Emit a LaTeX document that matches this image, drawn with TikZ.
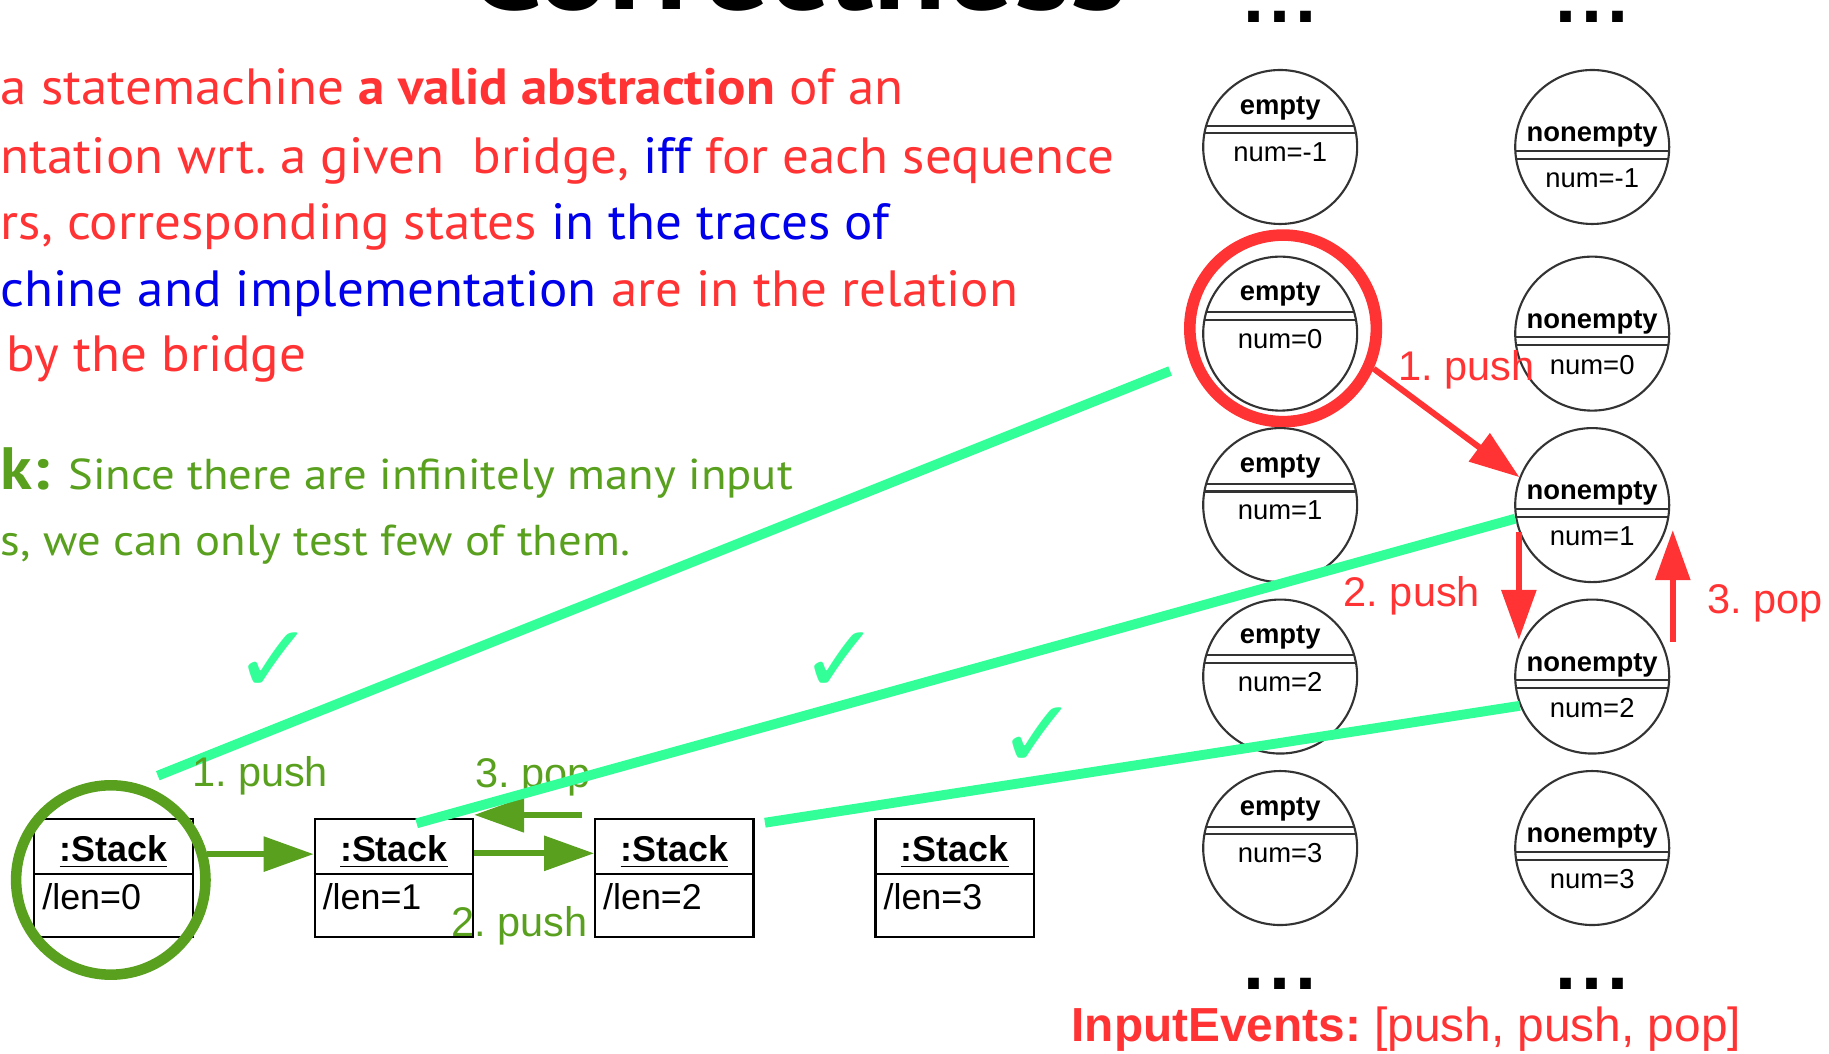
\documentclass[tikz,border=0pt]{standalone}
\usepackage{fontspec}
\setmainfont{Liberation Sans}
\newfontfamily\comic[FakeStretch=1.04]{PT Sans}
\newfontfamily\comicnote[FakeStretch=1.08]{PT Sans}
\newfontfamily\symfont{DejaVu Sans}
\usetikzlibrary{arrows.meta,calc}
\frenchspacing

\definecolor{errred}{RGB}{255,51,51}
\definecolor{keyblue}{RGB}{0,0,235}
\definecolor{notegreen}{RGB}{88,160,30}
\definecolor{bridgemint}{RGB}{51,255,153}

\tikzset{
  stackbox/.style={draw, line width=0.6pt, minimum width=15.84mm, minimum height=11.84mm, inner sep=0pt},
  statecirc/.style={draw=black!80, circle, line width=0.6pt, minimum size=15.4mm, inner sep=0pt},
  chord/.style={draw=black!80, line width=0.6pt},
  bridge/.style={bridgemint, line width=2.8pt},
  flow/.style={line width=1.7pt, -{Triangle[length=5mm,width=3.4mm]}},
  txt/.style={inner sep=0pt, anchor=base west},
  claimtxt/.style={txt, text=errred, font=\comic\fontsize{14.5}{17}\selectfont},
  notetxt/.style={txt, text=notegreen, font=\comicnote\fontsize{12.3}{14}\selectfont},
  steplabel/.style={txt, font=\fontsize{11.8}{14}\selectfont},
  tick/.style={inner sep=0pt, text=bridgemint, font=\symfont\bfseries\fontsize{27}{27}\selectfont},
  more/.style={inner sep=0pt, anchor=base, font=\bfseries\fontsize{21.5}{22}\selectfont},
}

\begin{document}
\begin{tikzpicture}[x=1.1665mm,y=-1.1665mm]
  \useasboundingbox (0,0) rectangle (156.8,90.3);

  % Titel (oben abgeschnitten)
  \node[txt, font=\comic\bfseries\fontsize{36.5}{40}\selectfont] (title) at (40.0,0.8) {Correctness};

  % Definition
  \node[claimtxt] (claim1) at (0,9.0) {a statemachine \textbf{a valid abstraction} of an};
  \node[claimtxt] (claim2) at (0,14.86) {ntation wrt. a given\ \ bridge, \textcolor{keyblue}{iff} for each sequence};
  \node[claimtxt] (claim3) at (0,20.5) {rs, corresponding states \textcolor{keyblue}{in the traces of}};
  \node[claimtxt] (claim4) at (0,26.3) {\textcolor{keyblue}{chine and implementation} are in the relation};
  \node[claimtxt] (claim5) at (0.5,31.86) {by the bridge};

  % Bemerkung
  \node[notetxt, font=\comicnote\bfseries\fontsize{17}{19}\selectfont] (notek) at (0,42.0) {k:};
  \node[notetxt] (note1) at (5.8,42.0) {Since there are infinitely many input};
  \node[notetxt] (note2) at (0,47.58) {s, we can only test few of them.};

  % Implementierung: Stack-Objekte
  \foreach \i in {0,...,3} {
    \node[stackbox] (s\i) at ({9.73+24.04*\i},75.28) {};
    \draw[line width=0.6pt] ([yshift=0.4mm]s\i.west) -- ([yshift=0.4mm]s\i.east);
    \node[inner sep=0pt, anchor=base, font=\bfseries\fontsize{10.2}{12}\selectfont] (sh\i) at ([yshift=1.7mm]s\i.center) {\underline{:Stack}};
    \node[txt, font=\fontsize{10.2}{12}\selectfont] (sv\i) at ([xshift=0.84mm,yshift=-3.18mm]s\i.west) {/len=\i};
  }

  % Markierungen
  \node[circle, draw=notegreen, line width=3pt, minimum size=18.94mm, inner sep=0pt] (g0) at (9.5,75.44) {};
  \node[circle, draw=errred, line width=3.3pt, minimum size=18.66mm, inner sep=0pt] (hit) at (110.0,28.15) {};

  % Zustandsmaschine
  \foreach \i/\val/\y in {0/-1/12.6, 1/0/28.6, 2/1/43.3, 3/2/58.0, 4/3/72.7} {
    \node[statecirc] (em\i) at (109.75,\y) {};
    \draw[chord] ([shift={(-7.40mm,2.13mm)}]em\i.center) -- ++(14.8mm,0);
    \draw[chord] ([shift={(-7.58mm,1.36mm)}]em\i.center) -- ++(15.16mm,0);
    \node[inner sep=0pt, anchor=base, font=\bfseries\fontsize{7.8}{9}\selectfont] (eml\i) at ([yshift=3.27mm]em\i.center) {empty};
    \node[inner sep=0pt, anchor=base, font=\fontsize{7.8}{9}\selectfont] (emv\i) at ([yshift=-1.47mm]em\i.center) {num=\val};
    \node[statecirc] (ne\i) at (136.5,\y) {};
    \draw[chord] ([shift={(-7.69mm,-0.37mm)}]ne\i.center) -- ++(15.38mm,0);
    \draw[chord] ([shift={(-7.61mm,-1.17mm)}]ne\i.center) -- ++(15.22mm,0);
    \node[inner sep=0pt, anchor=base, font=\bfseries\fontsize{7.8}{9}\selectfont] (nel\i) at ([yshift=0.54mm]ne\i.center) {nonempty};
    \node[inner sep=0pt, anchor=base, font=\fontsize{7.8}{9}\selectfont] (nev\i) at ([yshift=-4.08mm]ne\i.center) {num=\val};
  }

  % Uebergaenge der Implementierung
  \draw[flow, notegreen] (g0.15) -- (g0.15 -| s1.west);
  \draw[flow, notegreen] ([yshift=2.48mm]s1.east) -- ([yshift=2.48mm]s2.west);
  \draw[flow, notegreen] ([xshift=-1.17mm,yshift=0.3mm]s2.north west) -- ([yshift=0.3mm]s1.north east);
  \node[steplabel, text=notegreen] (lp3) at (40.7,67.5) {3. pop};

  % Bruecke
  \draw[bridge] ([shift={(4.7mm,10.43mm)}]g0.center) -- ([shift={(-11.3mm,-4.26mm)}]hit.center);
  \draw[bridge] ([shift={(2.27mm,5.48mm)}]s1.center) -- (ne2.190);
  \draw[bridge] ([shift={(9.06mm,5.54mm)}]s2.center) -- (ne3.202);
  \node[steplabel, text=notegreen] (lp1) at (16.4,67.44) {1. push};
  \node[steplabel, text=notegreen] (lp2) at (38.66,80.3) {2. push};

  \node[tick] (ok0) at (23.5,56.8) {✓};
  \node[tick] (ok1) at (72.0,56.8) {✓};
  \node[tick] (ok2) at (89.0,63.2) {✓};

  % Uebergaenge der Zustandsmaschine
  \draw[flow, errred] (hit.-24) -- (ne2.159);
  \draw[flow, errred, shorten >=1mm] (ne2.200) -- (ne2.200 |- ne3.160);
  \draw[flow, errred] ([xshift=0.25mm,yshift=3.5mm]ne3.east) -- ([xshift=0.25mm,yshift=-2.5mm]ne2.east);
  \node[steplabel, text=errred] (rp1) at (119.85,32.64) {1. push};
  \node[steplabel, text=errred] (rp2) at (115.15,52.0) {2. push};
  \node[steplabel, text=errred] (rp3) at (146.3,52.58) {3. pop};

  \node[more] (more0) at (109.75,1.95) {.\kern1.5pt.\kern1.5pt.};
  \node[more] (more1) at (136.5,1.95) {.\kern1.5pt.\kern1.5pt.};
  \node[more] (more2) at (109.75,84.8) {.\kern1.5pt.\kern1.5pt.};
  \node[more] (more3) at (136.5,84.8) {.\kern1.5pt.\kern1.5pt.};

  \node[txt, text=errred, font=\fontsize{13.6}{16}\selectfont] (events) at (91.8,89.3) {\textbf{InputEvents:} [push, push, pop]};
\end{tikzpicture}
\end{document}
